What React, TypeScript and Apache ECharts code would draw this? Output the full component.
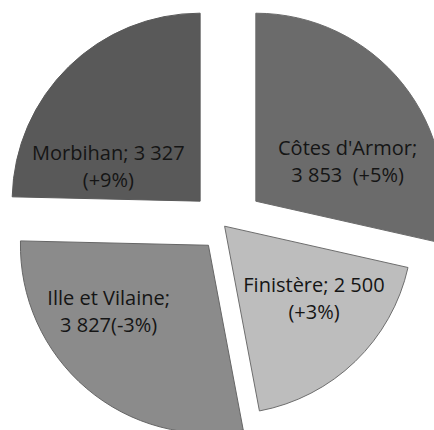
import React, { useEffect, useRef } from "react";
import * as echarts from "echarts";

const categories = ["Côtes d'Armor", "Finistère", "Ille et Vilaine", "Morbihan"];
const values = [3853, 2500, 3827, 3327];
const labelTexts = [
  "Côtes d'Armor;\n3 853  (+5%)",
  "Finistère; 2 500\n(+3%)",
  "Ille et Vilaine;\n3 827(-3%)",
  "Morbihan; 3 327\n(+9%)",
];

const colors = ["#6b6b6b", "#bdbdbd", "#8b8b8b", "#595959"];
const borderColors = ["#6b6b6b", "#6e6e6e", "#666666", "#595959"];
const explode = [40, 0, 25, 35];
const labelShift = [
  [16, 20],
  [22, 2],
  [-37, -8],
  [-24, 34],
];
const CX = 224.6;
const CY = 226.2;
const R = 188;

export default function App() {
  const ref = useRef<HTMLDivElement>(null);
  useEffect(() => {
    if (!ref.current) return;
    const chart = echarts.init(ref.current, null, { renderer: "svg" });
    const total = values.reduce((a, b) => a + b, 0);
    let acc = 0;
    const mids = values.map((v) => {
      const m = ((acc + v / 2) / total) * 2 * Math.PI;
      acc += v;
      return m;
    });
    const series = values.map((_, i) => ({
      type: "pie",
      radius: R,
      center: [CX + explode[i] * Math.sin(mids[i]), CY - explode[i] * Math.cos(mids[i])],
      startAngle: 90,
      clockwise: true,
      silent: true,
      avoidLabelOverlap: false,
      labelLine: { show: false },
      emphasis: { disabled: true },
      label: { show: false },
      labelLayout: { dx: labelShift[i][0], dy: labelShift[i][1] },
      data: values.map((v, j) => ({
        value: v,
        name: categories[j],
        itemStyle:
          j === i
            ? { color: colors[i], borderColor: borderColors[i], borderWidth: 1 }
            : { color: "rgba(0,0,0,0)", borderWidth: 0 },
        label:
          j === i
            ? {
                show: true,
                position: "inside",
                formatter: labelTexts[i],
                color: "#151515",
                fontFamily: "Open Sans",
                fontSize: 20,
                lineHeight: 27,
                align: "center",
              }
            : { show: false },
      })),
    }));
    chart.setOption({
      animation: false,
      backgroundColor: "#ffffff",
      series,
    });
    return () => chart.dispose();
  }, []);
  return (
    <div
      ref={ref}
      style={{ position: "fixed", left: 0, top: 0, width: 434, height: 430 }}
    />
  );
}
